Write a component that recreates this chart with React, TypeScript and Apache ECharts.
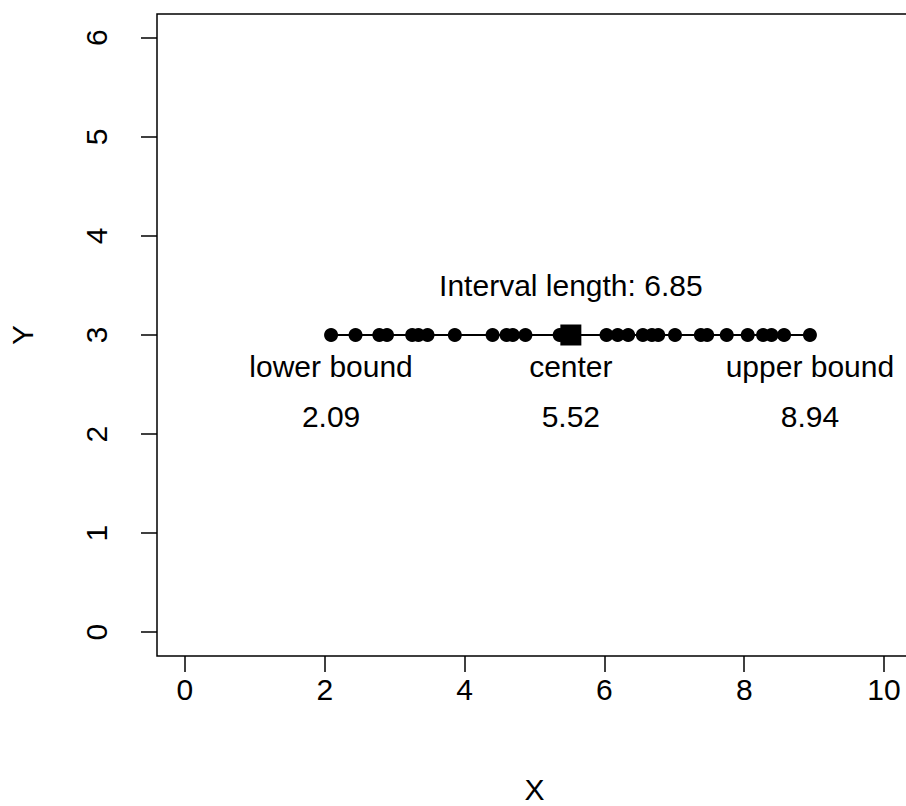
import React, { useEffect, useRef } from "react";
import * as echarts from "echarts";

const points = [2.09, 2.44, 2.78, 2.89, 3.25, 3.34, 3.47, 3.86, 4.4, 4.6, 4.69, 4.87, 5.36, 6.03, 6.19, 6.34, 6.55, 6.68, 6.77, 7.01, 7.38, 7.47, 7.75, 8.05, 8.27, 8.39, 8.57, 8.94];
const lowerBound = 2.09;
const upperBound = 8.94;
const center = 5.52;
const intervalLength = 6.85;
const lineY = 3;
const titleY = 3.5;
const nameY = 2.68;
const valueY = 2.18;
const xTicks = [0, 2, 4, 6, 8, 10];
const yTicks = [0, 1, 2, 3, 4, 5, 6];

const FONT = "'Liberation Sans', Arial, sans-serif";

export default function App() {
  const ref = useRef<HTMLDivElement>(null);
  useEffect(() => {
    if (!ref.current) return;
    const chart = echarts.init(ref.current, undefined, { renderer: "svg" });
    const textStyle = { color: "#000", fontFamily: FONT, fontSize: 30 };
    const annotations = [
      { value: [center, titleY], text: `Interval length: ${intervalLength.toFixed(2)}` },
      { value: [lowerBound, nameY], text: "lower bound" },
      { value: [center, nameY], text: "center" },
      { value: [upperBound, nameY], text: "upper bound" },
      { value: [lowerBound, valueY], text: lowerBound.toFixed(2) },
      { value: [center, valueY], text: center.toFixed(2) },
      { value: [upperBound, valueY], text: upperBound.toFixed(2) },
    ];
    chart.setOption({
      animation: false,
      backgroundColor: "#fff",
      grid: {
        left: 157,
        top: 14,
        width: 755,
        height: 642,
        show: true,
        borderColor: "#000",
        borderWidth: 1.5,
        containLabel: false,
        outerBoundsMode: "none",
      },
      xAxis: {
        type: "value",
        min: -0.4,
        max: 10.4,
        name: "X",
        nameLocation: "middle",
        nameGap: 118,
        nameTextStyle: { ...textStyle },
        axisLine: { show: false, onZero: false },
        splitLine: { show: false },
        axisTick: {
          show: true,
          length: 16,
          lineStyle: { color: "#000", width: 1.5 },
          customValues: xTicks,
        },
        axisLabel: {
          ...textStyle,
          margin: 18,
          customValues: xTicks,
        },
      },
      yAxis: {
        type: "value",
        min: -0.24,
        max: 6.24,
        name: "Y",
        nameLocation: "middle",
        nameGap: 120,
        nameRotate: 90,
        nameTextStyle: { ...textStyle },
        axisLine: { show: false, onZero: false },
        splitLine: { show: false },
        axisTick: {
          show: true,
          length: 16,
          lineStyle: { color: "#000", width: 1.5 },
          customValues: yTicks,
        },
        axisLabel: {
          ...textStyle,
          rotate: 90,
          margin: 61,
          customValues: yTicks,
          align: "center",
          verticalAlign: "middle",
        },
      },
      series: [
        {
          type: "line",
          data: points.map((p) => [p, lineY]),
          symbol: "circle",
          symbolSize: 14,
          itemStyle: { color: "#000", opacity: 1 },
          lineStyle: { color: "#000", width: 2.2 },
          z: 2,
        },
        {
          type: "scatter",
          data: [[center, lineY]],
          symbol: "rect",
          symbolSize: 21,
          itemStyle: { color: "#000", opacity: 1 },
          z: 3,
        },
        {
          type: "scatter",
          data: annotations.map((a) => ({ value: a.value, text: a.text })),
          symbolSize: 0,
          itemStyle: { opacity: 1 },
          label: {
            show: true,
            position: "inside",
            ...textStyle,
            formatter: (p: any) => p.data.text,
          },
          z: 4,
        },
      ],
    });
    return () => chart.dispose();
  }, []);
  return (
    <div
      ref={ref}
      style={{ position: "absolute", left: 0, top: 0, width: 906, height: 806 }}
    />
  );
}
